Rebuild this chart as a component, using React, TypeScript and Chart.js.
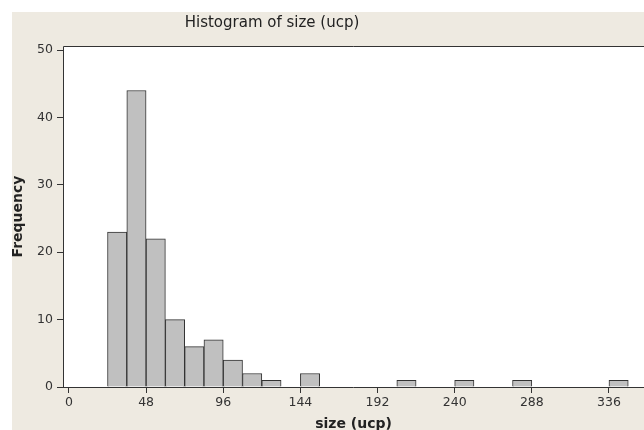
import React, { useEffect, useRef } from 'react';
import { Chart, registerables } from 'chart.js';

Chart.register(...registerables);

// Bin lower edges (width 12) and frequencies
const binStarts = [24, 36, 48, 60, 72, 84, 96, 108, 120, 132, 144, 156, 168, 180, 192, 204, 216, 228, 240, 252, 264, 276, 288, 300, 312, 324, 336];
const frequencies = [23, 44, 22, 10, 6, 7, 4, 2, 1, 0, 2, 0, 0, 0, 0, 1, 0, 0, 1, 0, 0, 1, 0, 0, 0, 0, 1];
const binWidth = 12;
const xTicks = [0, 48, 96, 144, 192, 240, 288, 336];
const yTicks = [0, 10, 20, 30, 40, 50];

const titleText = 'Histogram of size (ucp)';
const xTitle = 'size (ucp)';
const yTitle = 'Frequency';

const FONT = "'DejaVu Sans', sans-serif";
const BEIGE = '#EEEAE1';
const INK = '#333333';

export default function App() {
  const ref = useRef<HTMLCanvasElement | null>(null);

  useEffect(() => {
    const canvas = ref.current;
    if (!canvas) return;

    const decor = {
      id: 'decor',
      beforeDraw(chart: any) {
        const { ctx, chartArea: a } = chart;
        ctx.save();
        ctx.fillStyle = '#ffffff';
        ctx.fillRect(0, 0, chart.width, chart.height);
        ctx.fillStyle = BEIGE;
        ctx.fillRect(12, 12, chart.width - 12, chart.height - 12);
        ctx.fillStyle = '#ffffff';
        ctx.fillRect(a.left, a.top, a.right - a.left, a.bottom - a.top);
        ctx.restore();
      },
      afterDraw(chart: any) {
        const { ctx, chartArea: a } = chart;
        ctx.save();
        ctx.strokeStyle = INK;
        ctx.lineWidth = 1;
        ctx.beginPath();
        ctx.moveTo(a.left + 0.5, a.bottom + 0.5);
        ctx.lineTo(a.left + 0.5, a.top + 0.5);
        ctx.lineTo(a.right, a.top + 0.5);
        ctx.moveTo(a.left, a.bottom + 0.5);
        ctx.lineTo(a.right, a.bottom + 0.5);
        ctx.stroke();

        ctx.fillStyle = '#222222';
        ctx.textAlign = 'center';
        ctx.textBaseline = 'middle';
        ctx.font = `15px ${FONT}`;
        ctx.fillText(titleText, 272, 23);

        ctx.font = `bold 14px ${FONT}`;
        ctx.fillText(xTitle, (a.left + a.right) / 2, 424);

        ctx.translate(18, (a.top + a.bottom) / 2);
        ctx.rotate(-Math.PI / 2);
        ctx.fillText(yTitle, 0, 0);
        ctx.restore();
      },
    };

    const chart = new Chart(canvas, {
      type: 'bar',
      data: {
        datasets: [
          {
            data: binStarts.map((s, i) => ({ x: s + binWidth / 2, y: frequencies[i] })),
            backgroundColor: '#C0C0C0',
            borderColor: INK,
            borderWidth: 1,
            barPercentage: 1,
            categoryPercentage: 1,
          },
        ],
      },
      options: {
        responsive: false,
        animation: false,
        events: [],
        layout: { padding: { left: 0, top: 46, right: 0, bottom: 0 } },
        plugins: {
          legend: { display: false },
          title: { display: false },
          tooltip: { enabled: false },
        },
        scales: {
          x: {
            type: 'linear',
            min: -3.7,
            max: 357.8,
            offset: false,
            border: { display: false },
            grid: { display: true, offset: false, drawOnChartArea: false, drawTicks: true, tickLength: 6, color: INK },
            ticks: { color: '#333', font: { family: FONT, size: 12.5 }, padding: 2, maxRotation: 0, autoSkip: false },
            afterBuildTicks: (scale: any) => {
              scale.ticks = xTicks.map((v) => ({ value: v }));
            },
            afterFit: (scale: any) => {
              scale.height = 43;
            },
          },
          y: {
            type: 'linear',
            min: 0,
            max: 50.6,
            border: { display: false },
            grid: { display: true, drawOnChartArea: false, drawTicks: true, tickLength: 6, color: INK },
            ticks: { color: '#333', font: { family: FONT, size: 12.5 }, padding: 4 },
            afterBuildTicks: (scale: any) => {
              scale.ticks = yTicks.map((v) => ({ value: v }));
            },
            afterFit: (scale: any) => {
              scale.width = 63;
            },
          },
        },
      },
      plugins: [decor],
    });

    return () => chart.destroy();
  }, []);

  return (
    <div style={{ position: 'fixed', left: 0, top: 0, width: 644, height: 430 }}>
      <canvas ref={ref} width={644} height={430} style={{ display: 'block', width: 644, height: 430 }} />
    </div>
  );
}
